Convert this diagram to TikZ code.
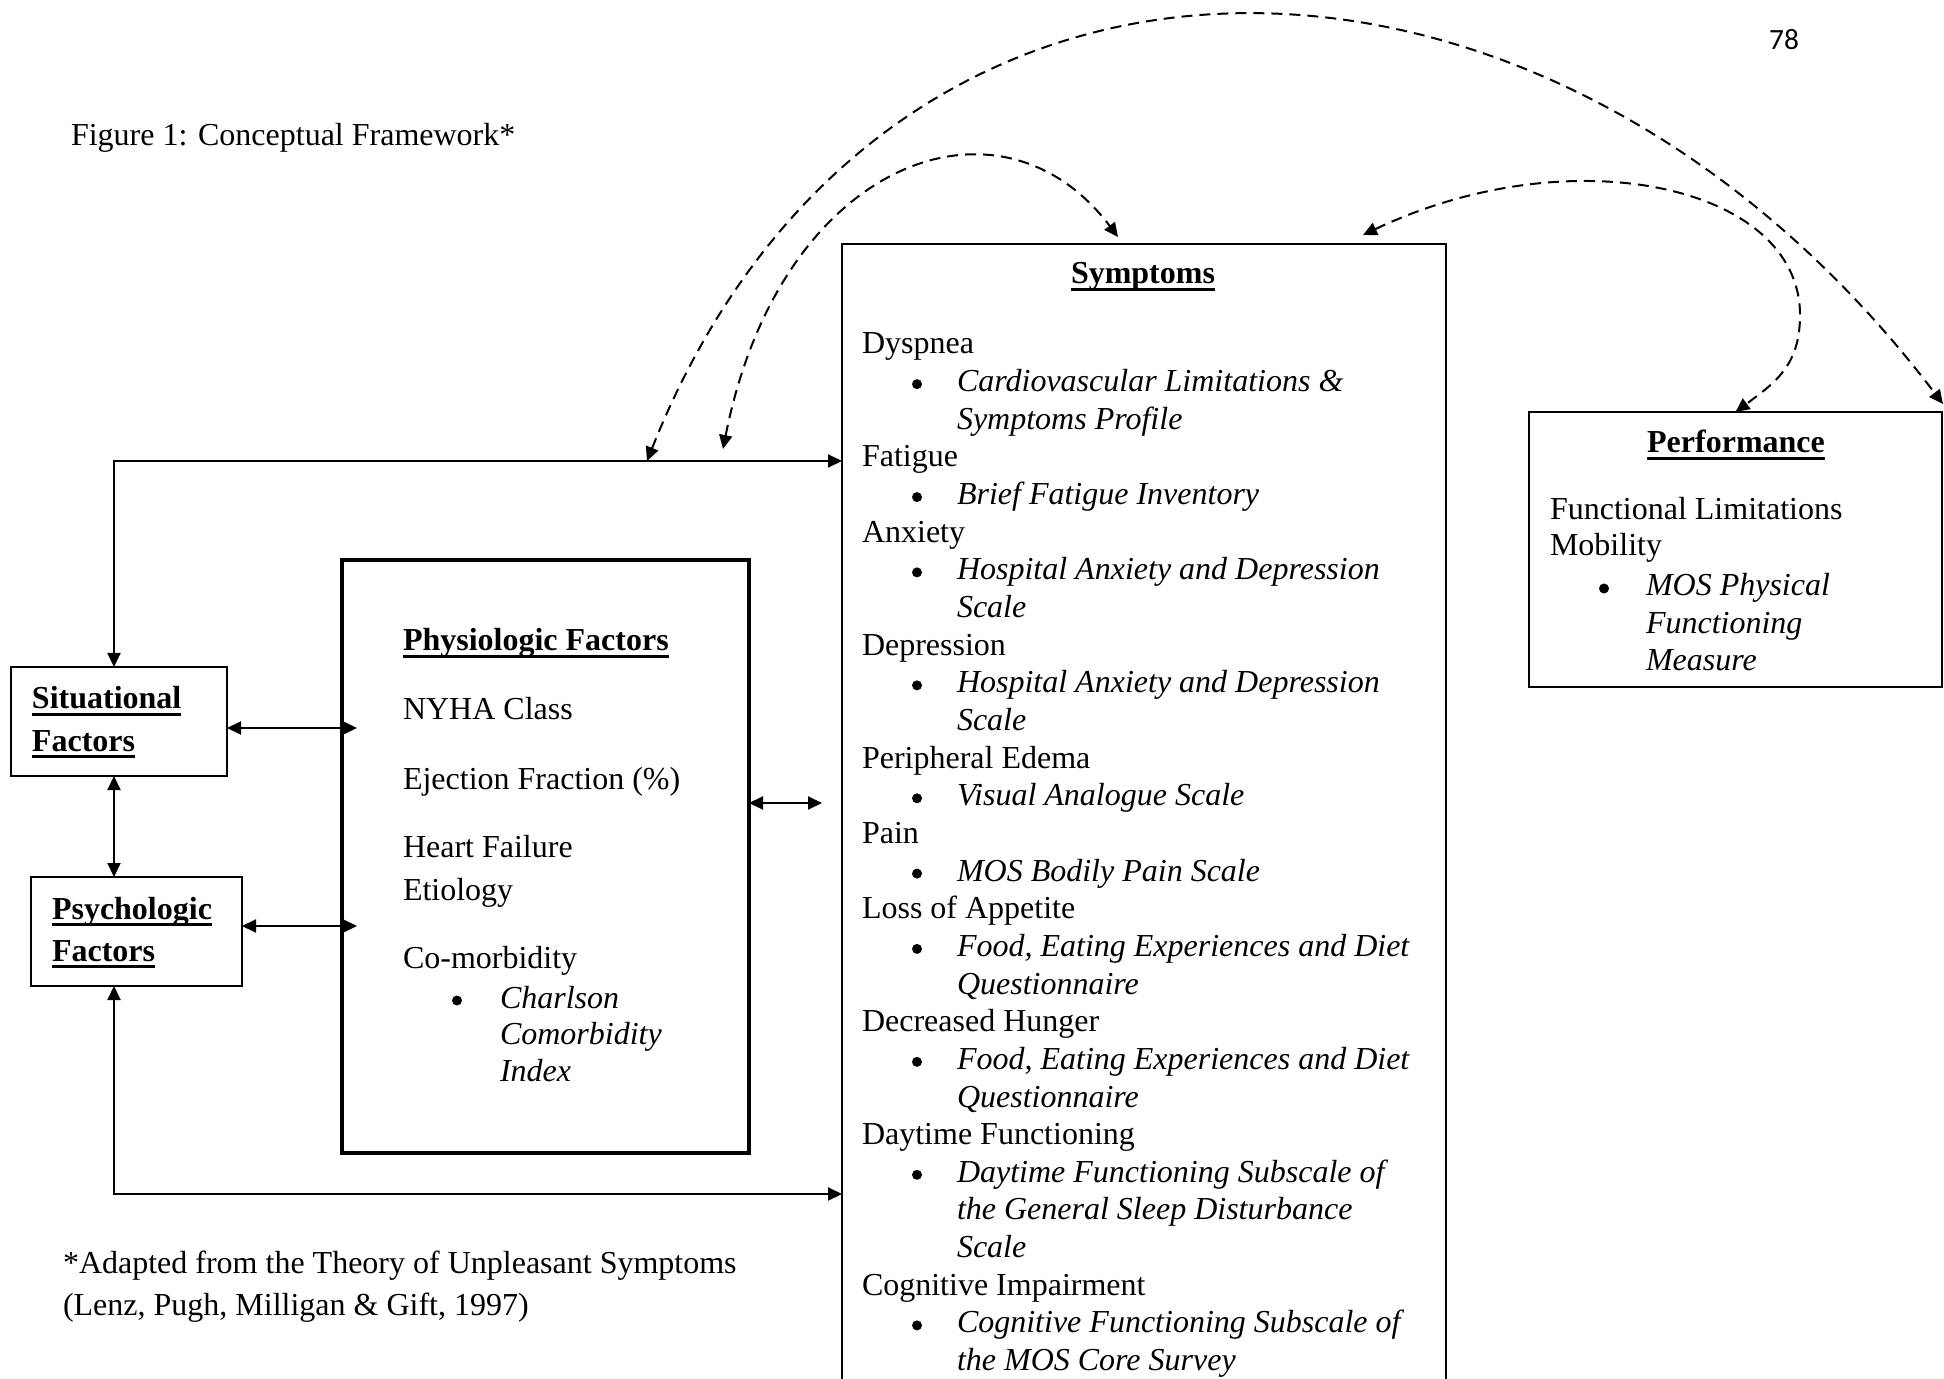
\documentclass[tikz,border=0pt]{standalone}
\usepackage{fontspec}
\setmainfont{Liberation Serif}
\newfontfamily\pagenumfont{Carlito}
\usetikzlibrary{arrows.meta,calc}
\newcommand\ulbold[1]{\setbox0\hbox{\bfseries #1}\rlap{\rule[-3.6pt]{\wd0}{1.4pt}}\box0}
\newcommand\R[1]{{354+37.65*#1}}
\newcommand\B[1]{{346.5+37.65*#1}}
\begin{document}
\begin{tikzpicture}[x=0.5pt,y=-0.5pt,
  >={Triangle[length=7pt,width=6.5pt]},
  box/.style={draw, line width=0.9pt, rectangle, inner sep=0pt, outer sep=0pt, anchor=north west},
  thickbox/.style={box, line width=1.7pt},
  txt/.style={anchor=base west, inner sep=0pt, outer sep=0pt, font=\fontsize{16pt}{18.8pt}\selectfont},
  itx/.style={txt, font=\fontsize{16pt}{18.8pt}\selectfont\itshape},
  ttl/.style={txt, font=\fontsize{16pt}{18.8pt}\selectfont\bfseries},
  bul/.style={circle, fill, inner sep=0pt, outer sep=0pt, minimum size=5pt},
  conn/.style={line width=1pt, <->},
  dashy/.style={line width=1pt, dash pattern=on 5.5pt off 3.5pt, <->}]
\useasboundingbox (0,0) rectangle (1944,1379);
\clip (0,0) rectangle (1944,1379);

% page number and captions
\node[anchor=base, inner sep=0pt, font=\fontsize{14.7pt}{17pt}\selectfont\pagenumfont] (pgnum) at (1784,50) {78};
\node[txt] (caption) at (71,146) {Figure 1: Conceptual Framework*};
\node[txt] (foot1) at (63,1273) {*Adapted from the Theory of Unpleasant Symptoms};
\node[txt] (foot2) at (63,1315) {(Lenz, Pugh, Milligan \& Gift, 1997)};

% boxes
\node[box, minimum width=302pt, minimum height=590pt] (sym) at (842,244) {};
\node[box, minimum width=206.5pt, minimum height=137.5pt] (perf) at (1529,412) {};
\node[thickbox, minimum width=203.5pt, minimum height=296.5pt] (phys) at (342,560) {};
\node[box, minimum width=108pt, minimum height=54.5pt] (sit) at (11,667) {};
\node[box, minimum width=105.5pt, minimum height=54.5pt] (psy) at (31,877) {};

% Situational / Psychologic
\node[ttl] (sit1) at (32,709) {\ulbold{Situational}};
\node[ttl] (sit2) at (32,751) {\ulbold{Factors}};
\node[ttl] (psy1) at (52,919) {\ulbold{Psychologic}};
\node[ttl] (psy2) at (52,961) {\ulbold{Factors}};

% Physiologic
\node[ttl] (ph0) at (403,651) {\ulbold{Physiologic Factors}};
\node[txt] (ph1) at (403,719) {NYHA Class};
\node[txt] (ph2) at (403,789) {Ejection Fraction (\%)};
\node[txt] (ph3) at (403,857) {Heart Failure};
\node[txt] (ph4) at (403,900) {Etiology};
\node[txt] (ph5) at (403,968) {Co-morbidity};
\node[bul] (phb) at (457,1000.5) {};
\node[itx] (ph6) at (500,1008) {Charlson};
\node[itx] (ph7) at (500,1044) {Comorbidity};
\node[itx] (ph8) at (500,1081) {Index};

% Performance
\node[anchor=base, inner sep=0pt, font=\fontsize{16pt}{18.8pt}\selectfont\bfseries] (pf0) at (1736,453) {\ulbold{Performance}};
\node[txt] (pf1) at (1550,520) {Functional Limitations};
\node[txt] (pf2) at (1550,556) {Mobility};
\node[bul] (pfb) at (1604,588.5) {};
\node[itx] (pf3) at (1646,596) {MOS Physical};
\node[itx] (pf4) at (1646,634) {Functioning};
\node[itx] (pf5) at (1646,670) {Measure};

% Symptoms
\node[anchor=base, inner sep=0pt, font=\fontsize{16pt}{18.8pt}\selectfont\bfseries] (sy) at (1143,284) {\ulbold{Symptoms}};
\node[txt] (s0) at (862,\R{0}) {Dyspnea};
\node[bul] (b1) at (917,\B{1}) {};
\node[itx] (s1) at (957,\R{1}) {Cardiovascular Limitations \&};
\node[itx] (s2) at (957,\R{2}) {Symptoms Profile};
\node[txt] (s3) at (862,\R{3}) {Fatigue};
\node[bul] (b4) at (917,\B{4}) {};
\node[itx] (s4) at (957,\R{4}) {Brief Fatigue Inventory};
\node[txt] (s5) at (862,\R{5}) {Anxiety};
\node[bul] (b6) at (917,\B{6}) {};
\node[itx] (s6) at (957,\R{6}) {Hospital Anxiety and Depression};
\node[itx] (s7) at (957,\R{7}) {Scale};
\node[txt] (s8) at (862,\R{8}) {Depression};
\node[bul] (b9) at (917,\B{9}) {};
\node[itx] (s9) at (957,\R{9}) {Hospital Anxiety and Depression};
\node[itx] (s10) at (957,\R{10}) {Scale};
\node[txt] (s11) at (862,\R{11}) {Peripheral Edema};
\node[bul] (b12) at (917,\B{12}) {};
\node[itx] (s12) at (957,\R{12}) {Visual Analogue Scale};
\node[txt] (s13) at (862,\R{13}) {Pain};
\node[bul] (b14) at (917,\B{14}) {};
\node[itx] (s14) at (957,\R{14}) {MOS Bodily Pain Scale};
\node[txt] (s15) at (862,\R{15}) {Loss of Appetite};
\node[bul] (b16) at (917,\B{16}) {};
\node[itx] (s16) at (957,\R{16}) {Food, Eating Experiences and Diet};
\node[itx] (s17) at (957,\R{17}) {Questionnaire};
\node[txt] (s18) at (862,\R{18}) {Decreased Hunger};
\node[bul] (b19) at (917,\B{19}) {};
\node[itx] (s19) at (957,\R{19}) {Food, Eating Experiences and Diet};
\node[itx] (s20) at (957,\R{20}) {Questionnaire};
\node[txt] (s21) at (862,\R{21}) {Daytime Functioning};
\node[bul] (b22) at (917,\B{22}) {};
\node[itx] (s22) at (957,\R{22}) {Daytime Functioning Subscale of};
\node[itx] (s23) at (957,\R{23}) {the General Sleep Disturbance};
\node[itx] (s24) at (957,\R{24}) {Scale};
\node[txt] (s25) at (862,\R{25}) {Cognitive Impairment};
\node[bul] (b26) at (917,\B{26}) {};
\node[itx] (s26) at (957,\R{26}) {Cognitive Functioning Subscale of};
\node[itx] (s27) at (957,\R{27}) {the MOS Core Survey};

% helper coordinates
\coordinate (vx) at (114,0);
\coordinate (ty) at (0,461);
\coordinate (by) at (0,1194);
\coordinate (ysit) at (0,728);
\coordinate (ypsy) at (0,926);
\coordinate (yph) at (0,803);
\coordinate (a1s) at (647,461);
\coordinate (a2s) at (723,449);

% solid connectors
\draw[conn] (sit.north -| vx) |- (sym.west |- ty);
\draw[conn] (psy.south -| vx) |- (sym.west |- by);
\draw[conn] (sit.south -| vx) -- (psy.north -| vx);
\draw[conn] (sit.east |- ysit) -- ($(phys.west |- ysit)+(15,0)$);
\draw[conn] (psy.east |- ypsy) -- ($(phys.west |- ypsy)+(15,0)$);
\draw[conn] (phys.east |- yph) -- ($(sym.west |- yph)+(-20,0)$);

% dashed arcs
\draw[dashy] (a1s) .. controls (880,-125) and (1545,-120) .. ($(perf.north east)+(1,-8)$);
\draw[dashy] (a2s) .. controls (780,160) and (1000,80) .. ($(sym.north west)+(276,-7)$);
\draw[dashy] ($(sym.north east)+(-83,-9)$) .. controls (1571,136) and (1800,185) .. (1800,315)
  .. controls (1800,365) and (1776,382) .. (perf.north);
\end{tikzpicture}
\end{document}
